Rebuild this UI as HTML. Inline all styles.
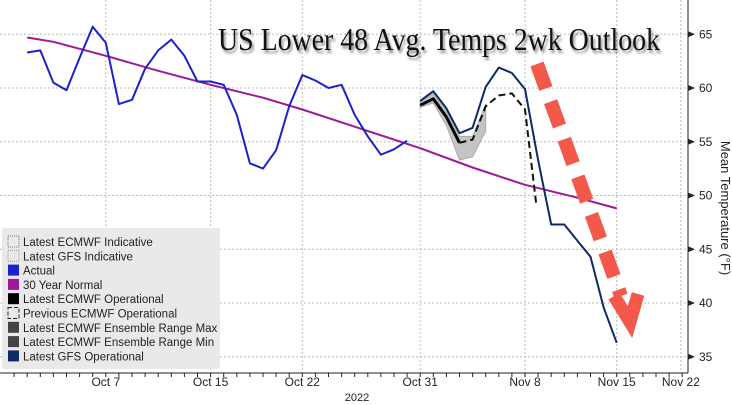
<!DOCTYPE html>
<html><head><meta charset="utf-8"><style>
body{margin:0;background:#fff;}
svg{display:block;font-family:"Liberation Sans",sans-serif;}
</style></head><body>
<svg id="chart" width="732" height="405" viewBox="0 0 732 405">
<g id="grid"></g>
<g id="series"></g>
<g id="axes"></g>
<text x="218" y="50" font-family="Liberation Serif, serif" font-size="32" textLength="442" lengthAdjust="spacingAndGlyphs" fill="#111" style="text-shadow:2px 3px 3px rgba(0,0,0,0.45)">US Lower 48 Avg. Temps 2wk Outlook</text>
<g stroke="#f2594b" fill="none" stroke-linecap="butt">
<line x1="537" y1="64" x2="621" y2="296" stroke-width="14" stroke-dasharray="26,14"/>
<polyline points="614,296 630,322 638,294" stroke-width="13" stroke-linejoin="miter"/>
</g>
<g id="legend"></g>
<text transform="translate(721,208) rotate(90)" text-anchor="middle" font-size="13" fill="#222">Mean Temperature (°F)</text>
<text x="357" y="401" text-anchor="middle" font-size="11" fill="#222">2022</text>
</svg>
<script>
const NS='http://www.w3.org/2000/svg';
// day index: 0 = Oct 1
const actualDays=[0,1,2,3,4,5,6,7,8,9,10,11,12,13,14,15,16,17,18,19,20,21,22,23,24,25,26,27,28,29];
const actualVals=[63.3,63.5,60.5,59.8,62.8,65.7,64.2,58.5,58.9,61.8,63.5,64.5,63.0,60.6,60.6,60.3,57.5,53.0,52.5,54.2,58.3,61.2,60.7,60.0,60.3,57.5,55.5,53.8,54.3,55.1];
const normalDays=[0,2,6,10,14,18,21,25,30,34,38,42,45];
const normalVals=[64.7,64.3,63.0,61.6,60.3,59.1,58.0,56.4,54.4,52.6,51.0,49.8,48.8];
const gfsDays=[30,31,32,33,34,35,36,37,38,39,40,41,42,43,44,45];
const gfsVals=[58.8,59.7,58.1,55.8,56.3,60.1,61.9,61.4,59.9,53.3,47.3,47.3,45.8,44.3,39.6,36.3];
const ecmDays=[30,31,32,33];
const ecmVals=[58.4,59.0,57.3,54.9];
const ensDays=[30,31,32,33,34,35];
const ensMax=[58.7,59.5,57.8,55.5,55.5,58.5];
const ensMin=[58.2,58.6,56.5,53.3,53.6,56.0];
const prevDays=[33,34,35,36,37,38,38.85];
const prevVals=[54.9,55.2,58.3,59.3,59.5,58.0,49.3];
const yTicks=[35,40,45,50,55,60,65];
const xTickLabels=['Oct 7','Oct 15','Oct 22','Oct 31','Nov 8','Nov 15','Nov 22'];
const xTickDays=[6,14,21,30,38,45,49.9];
const legendLabels=['Latest ECMWF Indicative','Latest GFS Indicative','Actual','30 Year Normal','Latest ECMWF Operational','Previous ECMWF Operational','Latest ECMWF Ensemble Range Max','Latest ECMWF Ensemble Range Min','Latest GFS Operational'];

const X=d=>525+(d-38)*13.1;
const Y=v=>88+(60-v)*10.75;
const PR=688, PB=373;
function mk(tag,attrs,parent){const e=document.createElementNS(NS,tag);for(const k in attrs)e.setAttribute(k,attrs[k]);parent.appendChild(e);return e;}
const grid=document.getElementById('grid'),series=document.getElementById('series'),axes=document.getElementById('axes'),legend=document.getElementById('legend');
yTicks.forEach(v=>{
 const l=mk('line',{x1:0,x2:PR,y1:Y(v),y2:Y(v),stroke:'#bbb','stroke-dasharray':'2,2','stroke-width':1},grid);
 
 
 const t=mk('text',{x:PR+11,y:Y(v)+4,'font-size':12,fill:'#222'},axes);t.textContent=v;
 
 
 const a=mk('path',{d:`M${PR} ${Y(v)-3}L${PR+7} ${Y(v)}L${PR} ${Y(v)+3}Z`,fill:'#222'},axes);
 
 
});
xTickDays.forEach((d,i)=>{
 const x=X(d);
 const l=mk('line',{x1:x,x2:x,y1:0,y2:PB,stroke:'#bbb','stroke-dasharray':'2,2','stroke-width':1},grid);
 
 
 const t=mk('text',{x:x,y:386,'font-size':12,fill:'#222','text-anchor':'middle'},axes);t.textContent=xTickLabels[i];
 
 
});
mk('line',{x1:0,x2:PR,y1:PB,y2:PB,stroke:'#222','stroke-width':1},axes);
mk('line',{x1:PR,x2:PR,y1:0,y2:PB,stroke:'#222','stroke-width':1},axes);
for(let d=-1;d<=50;d++){const x=X(d);if(x>PR)break;mk('line',{x1:x,x2:x,y1:PB,y2:PB+4,stroke:'#222'},axes);}
function pts(ds,vs){return ds.map((d,i)=>X(d).toFixed(1)+','+Y(vs[i]).toFixed(1)).join(' ');}
const band=mk('polygon',{points:pts(ensDays,ensMax)+' '+pts(ensDays.slice().reverse(),ensMin.slice().reverse()),fill:'#c4c4c4',stroke:'#aaa'},series);


function line(ds,vs,color,w,name,dash){const p=mk('polyline',{points:pts(ds,vs),fill:'none',stroke:color,'stroke-width':w,'stroke-linejoin':'round'},series);if(dash)p.setAttribute('stroke-dasharray',dash);
 
 }
line(normalDays,normalVals,'#a0189a',2,'normal-line');
line(actualDays,actualVals,'#1a22cc',2,'actual-line');
line(prevDays,prevVals,'#111',2,'previous-ecmwf-line','7,4');
line(ecmDays,ecmVals,'#000',3,'ecmwf-operational-line');
line(gfsDays,gfsVals,'#0e2a66',2,'gfs-operational-line');
// legend
const lb=mk('rect',{x:2,y:228,width:218,height:141,fill:'#e9e9e9',rx:2},legend);


const sw=[['none','#777','1,1'],['none','#999','1,1'],['#1a22cc'],['#a0189a'],['#000'],['none','#222','4,2'],['#444'],['#444'],['#0e2a66']];
legendLabels.forEach((lab,i)=>{
 const y=236+i*14.3;
 const g=mk('g',{},legend);
 
 
 const s=sw[i];
 const r=mk('rect',{x:8,y:y,width:11,height:11,fill:s[0]},g);
 if(s[1]){r.setAttribute('stroke',s[1]);r.setAttribute('stroke-dasharray',s[2]);}
 const t=mk('text',{x:23,y:y+10,'font-size':11.5,fill:'#222'},g);t.textContent=lab;
});
</script>
</body></html>
